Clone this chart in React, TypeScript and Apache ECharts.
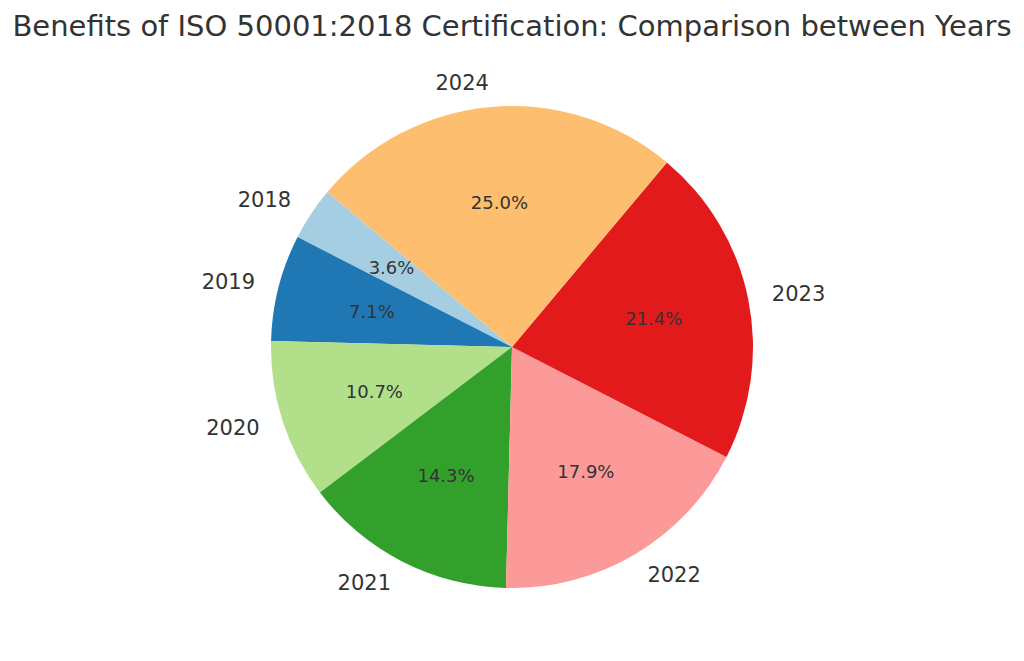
import React, { useEffect, useRef } from "react";
import * as echarts from "echarts";

const years = ["2018", "2019", "2020", "2021", "2022", "2023", "2024"];
const values = [1, 2, 3, 4, 5, 6, 7];
const colors = ["#a6cee3", "#1f78b4", "#b2df8a", "#33a02c", "#fb9a99", "#e31a1c", "#fdbf6f"];
const titleText = "Benefits of ISO 50001:2018 Certification: Comparison between Years";

const R = 241;
const CENTER: [number, number] = [512, 347];
const FONT = "DejaVu Sans";

export default function App() {
  const ref = useRef<HTMLDivElement>(null);
  useEffect(() => {
    if (!ref.current) return;
    const chart = echarts.init(ref.current, undefined, { renderer: "svg" });
    const data = years.map((y, i) => ({
      name: y,
      value: values[i],
      itemStyle: { color: colors[i] },
    }));
    const total = values.reduce((a, b) => a + b, 0);
    chart.setOption({
      animation: false,
      backgroundColor: "#ffffff",
      title: {
        text: titleText,
        left: "center",
        top: 6,
        textStyle: { fontFamily: FONT, fontSize: 29, fontWeight: "normal", color: "#333333" },
      },
      series: [
        {
          type: "pie",
          center: CENTER,
          radius: [0, R],
          startAngle: 140,
          clockwise: false,
          silent: true,
          avoidLabelOverlap: false,
          data,
          label: {
            show: true,
            position: "outside",
            alignTo: "none",
            distanceToLabelLine: 0,
            formatter: "{b}",
            fontFamily: FONT,
            fontSize: 21,
            color: "#333333",
          },
          labelLine: { show: false, length: R * 0.1, length2: 0 },
          itemStyle: { borderWidth: 0 },
        },
        {
          type: "pie",
          center: CENTER,
          radius: [0, R * 1.175],
          startAngle: 140,
          clockwise: false,
          silent: true,
          avoidLabelOverlap: false,
          z: 5,
          data: years.map((y, i) => ({ name: y, value: values[i] })),
          itemStyle: { color: "rgba(0,0,0,0)", borderWidth: 0 },
          label: {
            show: true,
            position: "inside",
            formatter: (p: any) => ((p.value / total) * 100).toFixed(1) + "%",
            fontFamily: FONT,
            fontSize: 18,
            color: "#333333",
          },
          labelLine: { show: false },
        },
      ],
    });
    return () => chart.dispose();
  }, []);
  return (
    <div
      ref={ref}
      style={{ position: "fixed", left: 0, top: 0, width: 1024, height: 661, background: "#fff" }}
    />
  );
}
